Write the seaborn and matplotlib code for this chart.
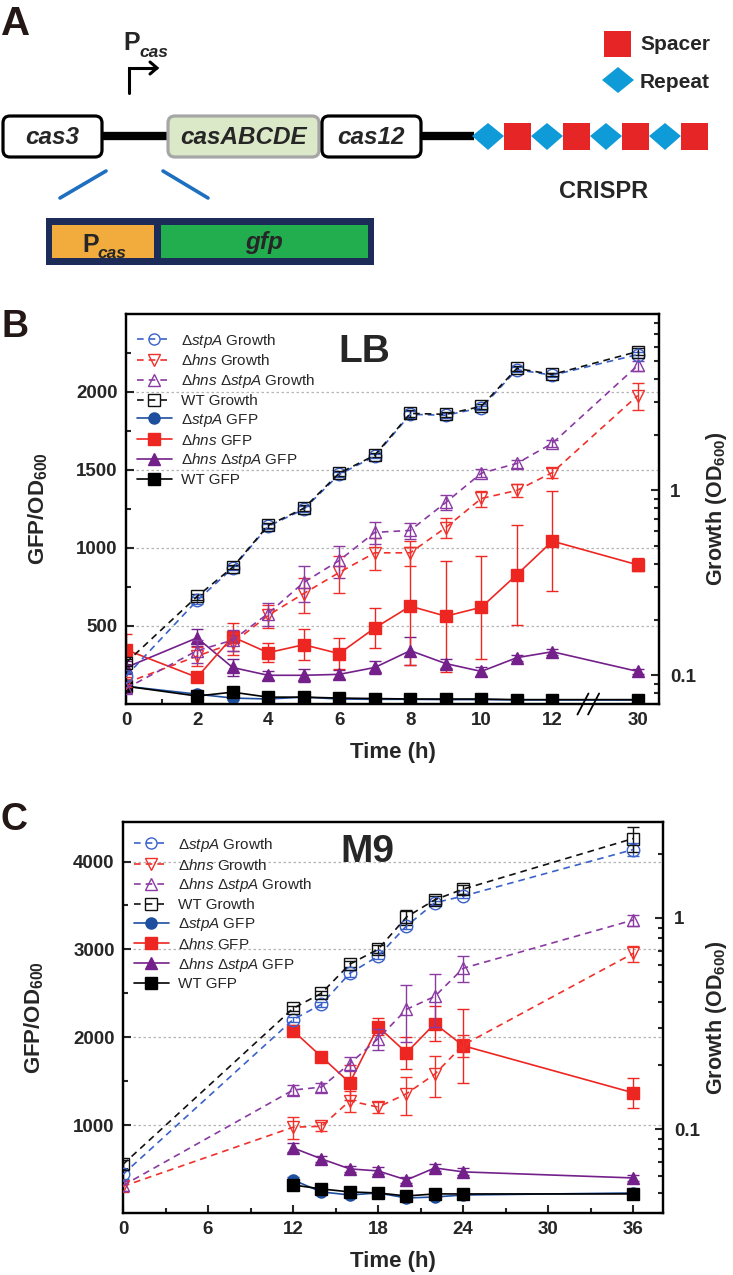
import matplotlib
matplotlib.use('Agg')
import matplotlib.pyplot as plt
import seaborn as sns
from matplotlib.patches import FancyBboxPatch, Rectangle, Polygon
from matplotlib.lines import Line2D
from matplotlib.ticker import LogLocator, FuncFormatter, NullFormatter

# ---------------- data ----------------
# panel A: operon sketch
genes = ['cas3', 'casABCDE', 'cas12']
crispr_units = ['repeat', 'spacer', 'repeat', 'spacer', 'repeat', 'spacer', 'repeat', 'spacer']

# panel B: LB medium (last sample at 30 h is drawn after the axis break)
lb_time = [0, 2, 3, 4, 5, 6, 7, 8, 9, 10, 11, 12, 30]
lb_xticks = [0, 2, 4, 6, 8, 10, 12, 30]
lb_growth = {
    'stpA':     [0.099, 0.254, 0.38, 0.64, 0.79, 1.22, 1.53, 2.58, 2.55, 2.80, 4.50, 4.20, 5.43],
    'hns':      [0.091, 0.127, 0.149, 0.211, 0.277, 0.36, 0.46, 0.46, 0.63, 0.905, 1.0, 1.25, 3.26],
    'hns_stpA': [0.085, 0.136, 0.155, 0.216, 0.318, 0.418, 0.593, 0.608, 0.861, 1.24, 1.40, 1.80, 4.74],
    'WT':       [0.117, 0.267, 0.384, 0.647, 0.80, 1.24, 1.55, 2.61, 2.58, 2.85, 4.57, 4.24, 5.64],
}
lb_growth_err = {
    'stpA':     [0.005, 0.01, 0.01, 0.02, 0.03, 0.04, 0.04, 0.10, 0.08, 0.08, 0.15, 0.10, 0.20],
    'hns':      [0.005, 0.015, 0.02, 0.03, 0.06, 0.08, 0.09, 0.07, 0.08, 0.09, 0.08, 0.08, 0.55],
    'hns_stpA': [0.005, 0.02, 0.02, 0.03, 0.07, 0.08, 0.08, 0.06, 0.08, 0.06, 0.07, 0.08, 0.30],
    'WT':       [0.005, 0.01, 0.01, 0.02, 0.03, 0.04, 0.04, 0.10, 0.08, 0.08, 0.15, 0.10, 0.25],
}
lb_gfp = {
    'stpA':     [114, 63, 38, 32, 44, 32, 30, 30, 28, 28, 26, 26, 25],
    'hns':      [348, 171, 430, 329, 380, 323, 487, 627, 563, 620, 829, 1044, 892],
    'hns_stpA': [234, 424, 234, 184, 184, 190, 234, 342, 259, 209, 297, 335, 209],
    'WT':       [114, 51, 76, 44, 44, 38, 35, 32, 32, 32, 28, 28, 28],
}
lb_gfp_err = {
    'stpA':     [15, 10, 10, 5, 5, 5, 5, 5, 5, 5, 5, 5, 5],
    'hns':      [100, 30, 90, 60, 100, 100, 127, 380, 355, 330, 320, 320, 42],
    'hns_stpA': [40, 55, 55, 30, 40, 30, 40, 90, 30, 30, 20, 20, 15],
    'WT':       [20, 10, 15, 5, 5, 5, 5, 5, 5, 5, 5, 5, 5],
}

# panel C: M9 medium
m9_time_growth = [0, 12, 14, 16, 18, 20, 22, 24, 36]
m9_time_gfp = [12, 14, 16, 18, 20, 22, 24, 36]
m9_xticks = [0, 6, 12, 18, 24, 30, 36]
m9_growth = {
    'stpA':     [0.061, 0.33, 0.39, 0.547, 0.659, 0.916, 1.18, 1.27, 2.11],
    'hns':      [0.0535, 0.102, 0.103, 0.136, 0.127, 0.147, 0.182, 0.25, 0.68],
    'hns_stpA': [0.054, 0.153, 0.158, 0.204, 0.268, 0.369, 0.425, 0.578, 0.978],
    'WT':       [0.068, 0.373, 0.44, 0.604, 0.711, 1.01, 1.22, 1.37, 2.38],
}
m9_growth_err = {
    'stpA':     [0.003, 0.01, 0.01, 0.02, 0.02, 0.03, 0.03, 0.03, 0.15],
    'hns':      [0.003, 0.012, 0.005, 0.015, 0.008, 0.03, 0.04, 0.03, 0.06],
    'hns_stpA': [0.003, 0.008, 0.008, 0.015, 0.03, 0.11, 0.12, 0.08, 0.06],
    'WT':       [0.003, 0.01, 0.01, 0.02, 0.03, 0.08, 0.05, 0.07, 0.33],
}
m9_gfp = {
    'stpA':     [376, 240, 205, 228, 171, 182, 205, 228],
    'hns':      [2075, 1779, 1482, 2121, 1824, 2155, 1904, 1368],
    'hns_stpA': [741, 616, 502, 479, 376, 513, 468, 399],
    'WT':       [319, 274, 240, 228, 194, 217, 217, 217],
}
m9_gfp_err = {
    'stpA':     [30, 20, 15, 15, 15, 15, 10, 15],
    'hns':      [60, 30, 200, 100, 180, 200, 420, 170],
    'hns_stpA': [50, 30, 30, 40, 30, 40, 40, 30],
    'WT':       [20, 15, 15, 10, 15, 15, 10, 10],
}

# ---------------- style ----------------
sns.set_style("ticks")
plt.rcParams['font.family'] = ['Liberation Sans', 'DejaVu Sans']
plt.rcParams['font.weight'] = 'bold'
plt.rcParams['mathtext.fontset'] = 'custom'
plt.rcParams['mathtext.rm'] = 'Liberation Sans:normal'
plt.rcParams['mathtext.it'] = 'Liberation Sans:italic:normal'
plt.rcParams['mathtext.bf'] = 'Liberation Sans:bold'

strains = ['stpA', 'hns', 'hns_stpA', 'WT']
growth_colors = {'stpA': '#3b62c9', 'hns': '#f0302a', 'hns_stpA': '#8a3aa2', 'WT': '#111111'}
gfp_colors = {'stpA': '#1d4f9e', 'hns': '#ee2622', 'hns_stpA': '#74208a', 'WT': '#000000'}
growth_markers = {'stpA': 'o', 'hns': 'v', 'hns_stpA': '^', 'WT': 's'}
gfp_markers = {'stpA': 'o', 'hns': 's', 'hns_stpA': '^', 'WT': 's'}
names = {'stpA': r'$\mathit{\Delta stpA}$', 'hns': r'$\mathit{\Delta hns}$',
         'hns_stpA': r'$\mathit{\Delta hns\ \Delta stpA}$', 'WT': 'WT'}
dash = (0, (4, 3))


def lb_pos(t):
    # broken axis: everything after 12 h sits just past the break
    return t if t <= 12 else 14.4


def draw_panel(ax, xg, growth, growth_err, xf, gfp, gfp_err, gfp_ylim, od_ylim,
               tag, tag_xy, leg_anchor, right_label_x):
    ax2 = ax.twinx()
    ax2.set_yscale('log')

    # GFP / OD600 on the left axis
    for s in ['hns_stpA', 'hns', 'stpA', 'WT']:
        c = gfp_colors[s]
        ax.errorbar(xf, gfp[s], yerr=gfp_err[s], fmt='none', ecolor=c,
                    elinewidth=1.0, capsize=4, capthick=1.0, zorder=2)
        sns.lineplot(x=xf, y=gfp[s], ax=ax, color=c, marker=gfp_markers[s],
                     markersize=8, markeredgecolor=c, markerfacecolor=c,
                     markeredgewidth=1, lw=1.2, errorbar=None, sort=False, zorder=3)

    # growth on the right (log) axis
    for s in ['hns', 'hns_stpA', 'stpA', 'WT']:
        c = growth_colors[s]
        ax2.errorbar(xg, growth[s], yerr=growth_err[s], fmt='none', ecolor=c,
                     elinewidth=1.0, capsize=4, capthick=1.0, zorder=2)
        sns.lineplot(x=xg, y=growth[s], ax=ax2, color=c, marker=growth_markers[s],
                     markersize=9, markeredgecolor=c, markerfacecolor='none',
                     markeredgewidth=1, lw=1.2, linestyle=dash, errorbar=None,
                     sort=False, zorder=3)

    ax.set_ylim(*gfp_ylim)
    ax2.set_ylim(*od_ylim)
    ax.set_axisbelow(True)
    ax.grid(axis='y', which='major', color='#b5b5b5', lw=0.9, linestyle=(0, (2, 2)))

    ax.tick_params(axis='both', which='both', direction='in', top=False, right=False,
                   labelsize=13.5, width=1.5, pad=6)
    ax.tick_params(axis='both', which='major', length=6)
    ax.tick_params(axis='both', which='minor', length=3.5)
    ax2.tick_params(axis='y', which='both', direction='in', width=1.5, labelsize=13.5, pad=8)
    ax2.tick_params(axis='y', which='major', length=6)
    ax2.tick_params(axis='y', which='minor', length=3.5)
    ax2.yaxis.set_major_locator(LogLocator(base=10))
    ax2.yaxis.set_minor_locator(LogLocator(base=10, subs=[2, 3, 4, 5, 6, 7, 8, 9]))
    ax2.yaxis.set_major_formatter(FuncFormatter(lambda v, p: f'{v:g}'))
    ax2.yaxis.set_minor_formatter(NullFormatter())

    for a in (ax, ax2):
        for sp in a.spines.values():
            sp.set_linewidth(1.6)
            sp.set_color('black')

    ax.set_ylabel(r'GFP/OD$_{\mathbf{600}}$', fontsize=16, fontweight='bold')
    ax.yaxis.set_label_coords(-0.143, 0.5)
    ax2.set_ylabel(r'Growth (OD$_{\mathbf{600}}$)', fontsize=15.5, fontweight='bold',
                   rotation=90)
    ax2.yaxis.set_label_coords(right_label_x, 0.5)
    ax.set_xlabel('Time (h)', fontsize=16, fontweight='bold')
    ax.xaxis.set_label_coords(0.5, -0.125)
    ax.xaxis.label.set_va('center')

    ax.text(tag_xy[0], tag_xy[1], tag, transform=ax.transAxes, fontsize=28,
            fontweight='bold', va='baseline', ha='left')

    handles, texts = [], []
    for s in strains:
        c = growth_colors[s]
        handles.append(Line2D([], [], color=c, lw=1.2, linestyle=dash,
                              marker=growth_markers[s], ms=8, mfc='none', mec=c, mew=1))
        texts.append(names[s] + ' Growth')
    for s in strains:
        c = gfp_colors[s]
        handles.append(Line2D([], [], color=c, lw=1.2, marker=gfp_markers[s],
                              ms=8, mfc=c, mec=c))
        texts.append(names[s] + ' GFP')
    ax2.legend(handles, texts, loc='upper left', bbox_to_anchor=leg_anchor,
               frameon=False, prop={'size': 11, 'weight': 'normal'},
               handlelength=2.3, handletextpad=0.6, labelspacing=0.25,
               borderaxespad=0, borderpad=0)
    return ax2


fig = plt.figure(figsize=(7.33, 12.75), dpi=100)

# ---------------- panel A ----------------
axa = fig.add_axes([0, 1 - 290 / 1275, 1, 290 / 1275])
axa.set_xlim(0, 733)
axa.set_ylim(290, 0)
axa.axis('off')

axa.text(1, 35, 'A', fontsize=29, fontweight='bold', va='baseline', color='#231815')

gene_x = [(3, 102), (168, 319), (322, 421)]
gene_face = ['white', '#dce9c9', 'white']
gene_edge = ['black', '#a6a6a6', 'black']
axa.plot([102, 168], [136, 136], color='black', lw=6, solid_capstyle='butt', zorder=1)
axa.plot([421, 474], [136, 136], color='black', lw=6, solid_capstyle='butt', zorder=1)
for name, (x0, x1), fc, ec in zip(genes, gene_x, gene_face, gene_edge):
    axa.add_patch(FancyBboxPatch((x0, 116), x1 - x0, 41,
                                 boxstyle='round,pad=0,rounding_size=7',
                                 fc=fc, ec=ec, lw=2.3, zorder=2))
    axa.text((x0 + x1) / 2, 144, name, fontsize=17.5, fontweight='bold',
             fontstyle='italic', ha='center', va='baseline', zorder=3)

# CRISPR array
cx = 472
for unit in crispr_units:
    if unit == 'repeat':
        axa.add_patch(Polygon([[cx, 136], [cx + 16, 123], [cx + 32, 136], [cx + 16, 150]],
                              closed=True, fc='#0e9bd8', ec='none', zorder=2))
        cx += 32
    else:
        axa.add_patch(Rectangle((cx, 123), 27, 27, fc='#e52526', ec='none', zorder=2))
        cx += 27
axa.text(604, 198, 'CRISPR', fontsize=17, fontweight='bold', ha='center', va='baseline')

# legend of the array
axa.add_patch(Rectangle((604, 31), 27, 26, fc='#e52526', ec='none'))
axa.add_patch(Polygon([[602, 80], [618, 67], [634, 80], [618, 93]], closed=True,
                      fc='#0e9bd8', ec='none'))
axa.text(640, 50, 'Spacer', fontsize=15, fontweight='bold', va='baseline')
axa.text(640, 88, 'Repeat', fontsize=15, fontweight='bold', va='baseline')

# promoter arrow
axa.plot([129, 129, 156], [93, 68, 68], color='black', lw=2.2, solid_joinstyle='miter')
axa.plot([150, 157, 150], [62, 68, 74], color='black', lw=2.2, solid_joinstyle='miter')
axa.text(123, 50, 'P', fontsize=18, fontweight='bold', va='baseline')
axa.text(139, 57, 'cas', fontsize=12.5, fontweight='bold', fontstyle='italic', va='baseline')

# zoom lines and reporter construct
axa.plot([60, 106], [198, 171], color='#1f6fc1', lw=2.6)
axa.plot([163, 208], [171, 198], color='#1f6fc1', lw=2.6)
axa.add_patch(Rectangle((46, 218), 328, 47, fc='#1c2b57', ec='none'))
axa.add_patch(Rectangle((52, 225), 102, 33, fc='#f2ac3e', ec='none'))
axa.add_patch(Rectangle((161, 225), 207, 33, fc='#22ad4f', ec='none'))
axa.text(82, 252, 'P', fontsize=18, fontweight='bold', va='baseline')
axa.text(97, 258, 'cas', fontsize=12.5, fontweight='bold', fontstyle='italic', va='baseline')
axa.text(264, 249, 'gfp', fontsize=17.5, fontweight='bold', fontstyle='italic',
         ha='center', va='baseline')

# ---------------- panel B ----------------
ax_b = fig.add_axes([126 / 733, 1 - 704 / 1275, 533 / 733, 390 / 1275])
x_lb = [lb_pos(t) for t in lb_time]
draw_panel(ax_b, x_lb, lb_growth, lb_growth_err, x_lb, lb_gfp, lb_gfp_err,
           (0, 2500), (0.07, 9), 'LB', (0.398, 0.877), (0.02, 0.955),
           (704 - 126) / 533)
ax_b.set_xlim(0, 15)
ax_b.set_xticks([lb_pos(t) for t in lb_xticks])
ax_b.set_xticklabels([str(t) for t in lb_xticks])
ax_b.set_xticks([1, 3, 5, 7, 9, 11], minor=True)
ax_b.set_yticks([500, 1000, 1500, 2000])
ax_b.set_yticks([250, 750, 1250, 1750, 2250], minor=True)

# axis break marks
trans = ax_b.get_xaxis_transform()
ax_b.add_patch(Rectangle((12.86, -0.007), 0.3, 0.014, transform=trans, fc='white',
                         ec='none', clip_on=False, zorder=6))
for xb in (12.86, 13.16):
    ax_b.plot([xb - 0.155, xb + 0.155], [-0.027, 0.027], transform=trans,
              color='black', lw=1.3, clip_on=False, zorder=7)

# ---------------- panel C ----------------
ax_c = fig.add_axes([123 / 733, 1 - 1213 / 1275, 540 / 733, 391 / 1275])
draw_panel(ax_c, m9_time_growth, m9_growth, m9_growth_err, m9_time_gfp, m9_gfp,
           m9_gfp_err, (0, 4450), (0.04, 2.85), 'M9', (0.402, 0.898), (0.02, 0.965),
           (704 - 123) / 540)
ax_c.set_xlim(0, 38.1)
ax_c.set_xticks(m9_xticks)
ax_c.set_xticks([3, 9, 15, 21, 27, 33], minor=True)
ax_c.set_yticks([1000, 2000, 3000, 4000])
ax_c.set_yticks([500, 1500, 2500, 3500], minor=True)

fig.text(1 / 733, 1 - 337 / 1275, 'B', fontsize=27, fontweight='bold', va='baseline',
         color='#231815')
fig.text(1 / 733, 1 - 830 / 1275, 'C', fontsize=27, fontweight='bold', va='baseline',
         color='#231815')

fig.savefig('out.png', dpi=100)
